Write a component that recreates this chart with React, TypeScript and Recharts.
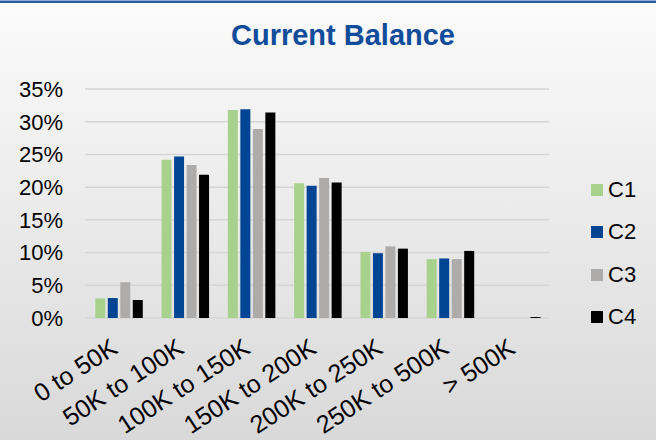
import { BarChart, Bar, XAxis, YAxis, CartesianGrid, Legend } from "recharts";

// values, in percent
const categories = [
    "0 to 50K",
    "50K to 100K",
    "100K to 150K",
    "150K to 200K",
    "200K to 250K",
    "250K to 500K",
    "> 500K",
];
const c1Values = [3.0, 24.2, 31.8, 20.6, 10.1, 9.0, 0];
const c2Values = [3.05, 24.7, 31.9, 20.2, 9.9, 9.1, 0];
const c3Values = [5.45, 23.4, 28.9, 21.4, 10.95, 9.0, 0];
const c4Values = [2.75, 21.9, 31.4, 20.7, 10.6, 10.25, 0.15];
const yTicks = [0, 5, 10, 15, 20, 25, 30, 35];

const seriesNames = ["C1", "C2", "C3", "C4"];
const seriesColors = ["#a9d18e", "#004494", "#aeabab", "#000000"];

const data = categories.map((name, i) => ({
    name,
    C1: c1Values[i],
    C2: c2Values[i],
    C3: c3Values[i],
    C4: c4Values[i],
}));

const FONT = '"Liberation Sans", Arial, sans-serif';

function CategoryTick(props: any) {
    const { x, y, payload } = props;
    return (
        <g transform={`translate(${x + 1},${y + 34})`}>
            <text
                x={0}
                y={0}
                textAnchor="end"
                transform="rotate(-33)"
                fontSize={25}
                fill="#000"
                fontFamily={FONT}
            >
                {payload.value}
            </text>
        </g>
    );
}

function LegendBox() {
    return (
        <div style={{ width: 65 }}>
            {seriesNames.map((n, i) => (
                <div
                    key={n}
                    style={{ display: "flex", alignItems: "center", height: 42.3 }}
                >
                    <span
                        style={{
                            display: "inline-block",
                            width: 12,
                            height: 12,
                            background: seriesColors[i],
                            marginRight: 5,
                        }}
                    />
                    <span style={{ fontSize: 22, lineHeight: "22px", color: "#000" }}>{n}</span>
                </div>
            ))}
        </div>
    );
}

export default function App() {
    return (
        <div
            style={{
                position: "absolute",
                left: 0,
                top: 0,
                width: 656,
                height: 440,
                background: "linear-gradient(to bottom, #fbfbfb 0%, #d9d9d9 100%)",
                fontFamily: FONT,
                overflow: "hidden",
            }}
        >
            <div style={{ position: "absolute", left: 0, top: 0, width: 656, height: 1, background: "#8fa9d0" }} />
            <div style={{ position: "absolute", left: 0, top: 1, width: 656, height: 2, background: "#2b5ca6" }} />
            <div
                style={{
                    position: "absolute",
                    left: 193,
                    top: 21,
                    width: 300,
                    textAlign: "center",
                    fontSize: 29,
                    lineHeight: "29px",
                    fontWeight: "bold",
                    color: "#0f4c9b",
                    whiteSpace: "nowrap",
                }}
            >
                Current Balance
            </div>
            <BarChart
                width={656}
                height={440}
                data={data}
                margin={{ top: 89, right: 42, bottom: 22, left: 0 }}
                barCategoryGap="15.5%"
                barGap={2.5}
            >
                <CartesianGrid vertical={false} stroke="#d6d6d6" strokeWidth={1.5} />
                <XAxis
                    dataKey="name"
                    axisLine={false}
                    tickLine={false}
                    tickSize={0}
                    tickMargin={0}
                    height={100}
                    interval={0}
                    tick={<CategoryTick />}
                />
                <YAxis
                    domain={[0, 35]}
                    ticks={yTicks}
                    tickFormatter={(v: number) => `${v}%`}
                    axisLine={false}
                    tickLine={false}
                    tickSize={0}
                    tickMargin={22}
                    width={85}
                    tick={{ fontSize: 22, fill: "#000", fontFamily: FONT }}
                />
                <Legend
                    layout="vertical"
                    align="right"
                    verticalAlign="top"
                    content={<LegendBox />}
                    wrapperStyle={{ left: 591, top: 169, width: 65 }}
                />
                {seriesNames.map((n, i) => (
                    <Bar key={n} dataKey={n} fill={seriesColors[i]} isAnimationActive={false} />
                ))}
            </BarChart>
        </div>
    );
}
